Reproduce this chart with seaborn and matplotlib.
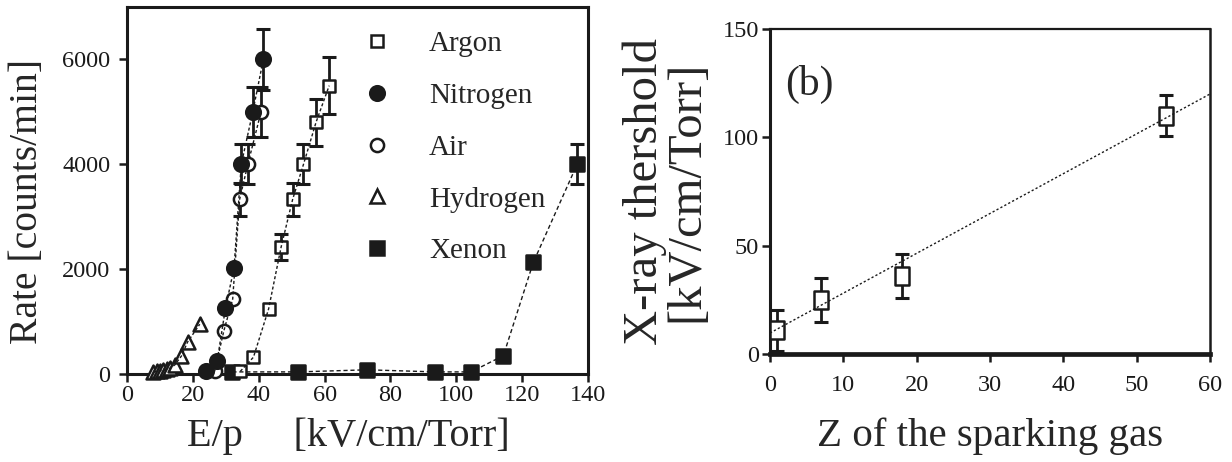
import numpy as np
import pandas as pd
import matplotlib
matplotlib.use("Agg")
import matplotlib.pyplot as plt
import seaborn as sns
from matplotlib.lines import Line2D
from matplotlib.markers import MarkerStyle
from matplotlib.path import Path

sns.set_theme(style="ticks")
plt.rcParams['font.family'] = ['Liberation Serif', 'DejaVu Serif']

# ---------------- Panel (a): rate vs E/p ----------------
ar_ep   = [34.4, 38.4, 43.0, 46.8, 50.3, 53.6, 57.4, 61.4]
ar_rate = [50, 320, 1240, 2420, 3330, 4000, 4800, 5500]
ar_err  = [0, 0, 0, 250, 310, 380, 450, 550]

n2_ep   = [23.9, 27.4, 29.9, 32.5, 34.7, 38.2, 41.4]
n2_rate = [60, 255, 1255, 2020, 4000, 5000, 6000]
n2_err  = [0, 0, 0, 0, 380, 480, 580]

air_ep   = [26.6, 29.4, 32.1, 34.2, 36.7, 40.7]
air_rate = [50, 820, 1430, 3330, 4000, 5000]
air_err  = [0, 0, 0, 310, 380, 480]

h2_ep   = [8.0, 9.0, 10.0, 11.0, 12.0, 13.0, 14.5, 16.5, 18.4, 22.1]
h2_rate = [40, 50, 60, 70, 90, 110, 172, 340, 610, 950]

xe_ep   = [32.0, 52.0, 73.0, 93.6, 104.5, 114.3, 123.4, 136.7]
xe_rate = [40, 40, 80, 40, 40, 350, 2130, 4000]
xe_err  = [0, 0, 0, 0, 0, 0, 0, 380]

legend_labels = ["Argon", "Nitrogen", "Air", "Hydrogen", "Xenon"]

# ---------------- Panel (b): threshold vs Z ----------------
gas_z   = [1, 7, 18, 54]
thr     = [11, 25, 36, 110]
thr_err = [9.5, 10, 10, 9.5]
fit_z   = [0, 60]
fit_thr = [9.7, 120]

xticks_a = [0, 20, 40, 60, 80, 100, 120, 140]
yticks_a = [0, 2000, 4000, 6000]
xticks_b = [0, 10, 20, 30, 40, 50, 60]
yticks_b = [0, 50, 100, 150]

W, H = 1232, 462
fig = plt.figure(figsize=(W / 100, H / 100), dpi=100)
fig.patch.set_facecolor("white")

ax1 = fig.add_axes([127 / W, 1 - 374 / H, (588 - 127) / W, (374 - 7) / H])
ax2 = fig.add_axes([770 / W, 1 - 354 / H, (1210 - 770) / W, (354 - 29) / H])

dot = (0, (2.2, 1.6))
MEW = 1.8

def series(ax, x, y, marker, filled, size, err=None):
    x = np.asarray(x, float)
    y = np.asarray(y, float)
    if err is not None:
        e = np.asarray(err, float)
        m = e > 0
        if m.any():
            ax.errorbar(x[m], y[m], yerr=e[m], fmt="none", ecolor="k",
                        elinewidth=2.0, capsize=4.7, capthick=2.2, zorder=2.6,
                        clip_on=False)
    sns.scatterplot(x=x, y=y, ax=ax, marker=marker, s=size ** 2,
                    color="k" if filled else "white", edgecolor="k",
                    linewidth=MEW, zorder=3, clip_on=False, legend=False)

def connect(ax, x, y, ls=dot):
    sns.lineplot(x=x, y=y, ax=ax, color="k", linestyle=ls, linewidth=1.0,
                 sort=False, estimator=None, zorder=4, legend=False)

# draw order: Xenon, Hydrogen, Air, Argon, Nitrogen
series(ax1, xe_ep, xe_rate, "s", True, 10.5, xe_err)
series(ax1, h2_ep, h2_rate, "^", False, 10)
series(ax1, air_ep, air_rate, "o", False, 9.5, air_err)
series(ax1, ar_ep, ar_rate, "s", False, 9, ar_err)
series(ax1, n2_ep, n2_rate, "o", True, 10.5, n2_err)

connect(ax1, xe_ep, xe_rate, ls=(0, (3, 2)))
connect(ax1, h2_ep, h2_rate)
connect(ax1, air_ep, air_rate)
connect(ax1, ar_ep, ar_rate)
connect(ax1, n2_ep, n2_rate)

ax1.set_xlim(0, 140)
ax1.set_ylim(0, 7000)
ax1.set_xticks(xticks_a)
ax1.set_yticks(yticks_a)
ax1.set_xlabel("E/p     [kV/cm/Torr]", fontsize=29)
ax1.set_ylabel("Rate [counts/min]", fontsize=28.5)
ax1.yaxis.set_label_coords(-0.176, 0.47)
ax1.xaxis.set_label_coords(0.48, -0.118)

handles = [
    Line2D([], [], marker="s", ls="none", mfc="white", mec="k", mew=MEW, ms=9),
    Line2D([], [], marker="o", ls="none", mfc="k", mec="k", mew=MEW, ms=10.5),
    Line2D([], [], marker="o", ls="none", mfc="white", mec="k", mew=MEW, ms=9.5),
    Line2D([], [], marker="^", ls="none", mfc="white", mec="k", mew=MEW, ms=10),
    Line2D([], [], marker="s", ls="none", mfc="k", mec="k", mew=MEW, ms=10.5),
]
leg = ax1.legend(handles, legend_labels, loc="upper left",
                 bbox_to_anchor=(0.51, 0.935), frameon=False, fontsize=21,
                 handlelength=1.0, handletextpad=1.3, labelspacing=0.87,
                 borderpad=0, borderaxespad=0)

# panel (b)
rect = MarkerStyle(Path([(-0.78, -1), (0.78, -1), (0.78, 1), (-0.78, 1), (-0.78, -1)],
                        [Path.MOVETO, Path.LINETO, Path.LINETO, Path.LINETO, Path.CLOSEPOLY]))
series(ax2, gas_z, thr, rect, False, 13, thr_err)
connect(ax2, fit_z, fit_thr, ls=(0, (1.6, 1.6)))
ax2.set_xlim(0, 60)
ax2.set_ylim(0, 150)
ax2.set_xticks(xticks_b)
ax2.set_yticks(yticks_b)
ax2.set_xlabel("Z of the sparking gas", fontsize=29.5)
ax2.set_ylabel("X-ray thershold\n[kV/cm/Torr]", fontsize=35, linespacing=0.92)
ax2.yaxis.set_label_coords(-0.14, 0.5)
ax2.xaxis.set_label_coords(0.5, -0.195)
ax2.text(0.035, 0.83, "(b)", transform=ax2.transAxes, fontsize=30,
         ha="left", va="center")

for ax in (ax1, ax2):
    ax.set_facecolor("white")
    ax.grid(False)
    for s in ax.spines.values():
        s.set_color("k")
        s.set_linewidth(2.2)
        s.set_zorder(2.5)
    ax.tick_params(axis="both", direction="out", length=6, width=1.8,
                   color="k", labelcolor="k", labelsize=17.5)

ax1.tick_params(axis="x", pad=2)
ax1.tick_params(axis="y", pad=6)
ax2.tick_params(axis="x", pad=9)
ax2.tick_params(axis="y", pad=2)
ax2.spines["bottom"].set_linewidth(3.4)
ax2.spines["top"].set_linewidth(1.6)
ax2.spines["right"].set_linewidth(1.8)

fig.savefig("out.png", dpi=100, facecolor="white")
